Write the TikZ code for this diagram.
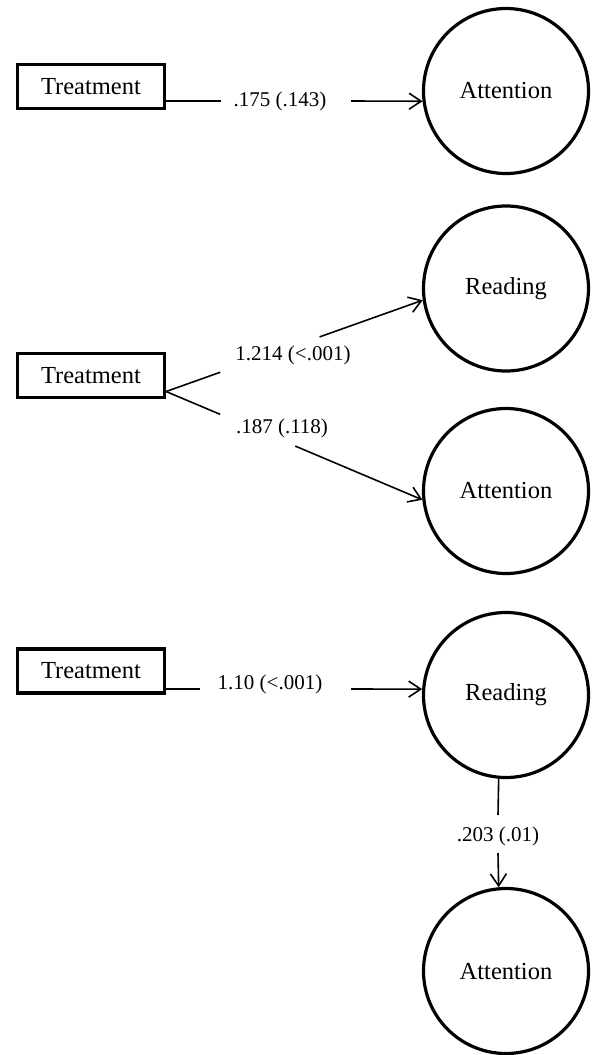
\documentclass[tikz,border=0pt]{standalone}
\usepackage{fontspec}
\setmainfont{Liberation Serif}
\usetikzlibrary{arrows.meta,positioning,calc}

\begin{document}
\begin{tikzpicture}[x=1pt, y=-1pt, >={Straight Barb[length=12pt,width=16pt]},
        box/.style={draw, line width=3.2pt, minimum width=147pt, minimum height=44pt, inner sep=0pt, font=\fontsize{24.5}{26}\selectfont},
        latent/.style={draw, circle, line width=3.2pt, minimum size=165pt, inner sep=0pt, font=\fontsize{24.5}{26}\selectfont},
        est/.style={font=\fontsize{21}{23}\selectfont, inner sep=0pt},
        link/.style={line width=1.6pt}]
        \useasboundingbox (0,0) rectangle (595,1055);

        % Model 1: Treatment -> Attention
        \node[box] (treat1) at (91,86.5) {Treatment};
        \node[latent] (att1) at (506,91) {Attention};
        \coordinate (p1a) at (221,101);
        \coordinate (p1b) at (351,101);
        \node[est] (e1) at (280,101) {.175 (.143)};
        \draw[link] (treat1.east |- p1a) -- (p1a);
        \draw[link, ->] (p1b) -- (att1.187);

        % Model 2: Treatment -> Reading, Treatment -> Attention
        \node[box] (treat2) at (91,375.5) {Treatment};
        \node[latent] (read2) at (506,288.5) {Reading};
        \node[latent] (att2) at (506,491) {Attention};
        \coordinate (fork) at ($(treat2.east)+(0,16)$);
        \path (fork) -- (read2.188) coordinate[pos=0.211] (u1) coordinate[pos=0.598] (u2);
        \path (fork) -- (att2.186) coordinate[pos=0.211] (d1) coordinate[pos=0.504] (d2);
        \draw[link] (fork) -- (u1);
        \draw[link, ->] (u2) -- (read2.188);
        \draw[link] (fork) -- (d1);
        \draw[link, ->] (d2) -- (att2.186);
        \node[est] (e2) at (293,355) {1.214 (<.001)};
        \node[est] (e3) at (282,428) {.187 (.118)};

        % Model 3: Treatment -> Reading -> Attention
        \node[box] (treat3) at (91,671) {Treatment};
        \node[latent] (read3) at (506,695) {Reading};
        \node[latent] (att3) at (506,971) {Attention};
        \coordinate (p3a) at (200,689);
        \coordinate (p3b) at (351,689);
        \node[est] (e4) at (270,684) {1.10 (<.001)};
        \draw[link] (treat3.east |- p3a) -- (p3a);
        \draw[link, ->] (p3b) -- (read3.176);
        \coordinate (q1) at (498,815);
        \coordinate (q2) at (498,853);
        \node[est] (e5) at (498,836) {.203 (.01)};
        \draw[link] (read3.265) -- (q1);
        \draw[link, ->] (q2) -- (att3.95);

    \end{tikzpicture}
\end{document}
